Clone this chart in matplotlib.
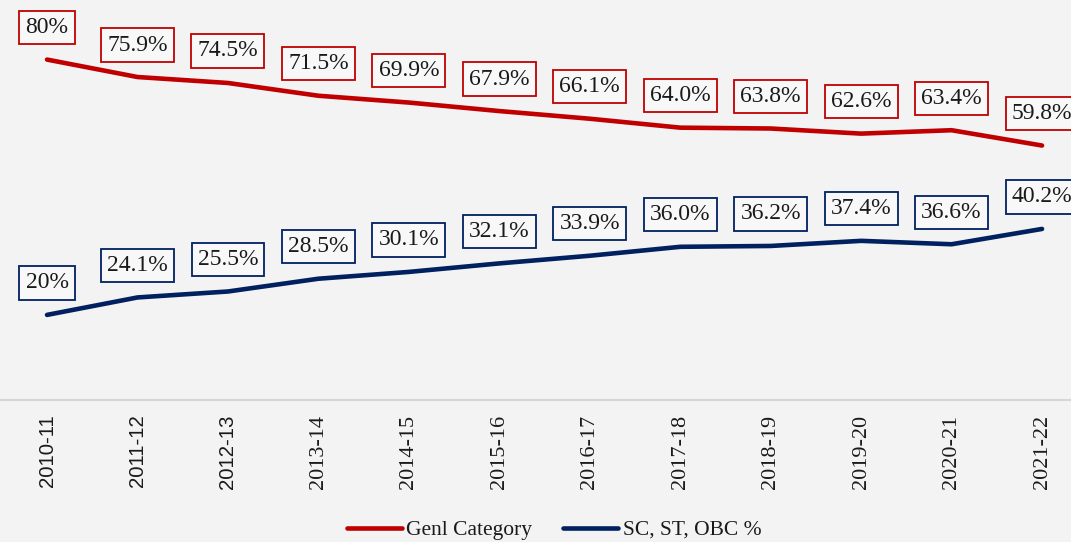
import matplotlib
matplotlib.use("Agg")
import matplotlib.pyplot as plt

years = ["2010-11", "2011-12", "2012-13", "2013-14", "2014-15", "2015-16",
         "2016-17", "2017-18", "2018-19", "2019-20", "2020-21", "2021-22"]
genl = [80, 75.9, 74.5, 71.5, 69.9, 67.9, 66.1, 64.0, 63.8, 62.6, 63.4, 59.8]
reserved = [20, 24.1, 25.5, 28.5, 30.1, 32.1, 33.9, 36.0, 36.2, 37.4, 36.6, 40.2]
genl_labels = ["80%", "75.9%", "74.5%", "71.5%", "69.9%", "67.9%", "66.1%",
               "64.0%", "63.8%", "62.6%", "63.4%", "59.8%"]
reserved_labels = ["20%", "24.1%", "25.5%", "28.5%", "30.1%", "32.1%", "33.9%",
                   "36.0%", "36.2%", "37.4%", "36.6%", "40.2%"]
series_names = ["Genl Category", "SC, ST, OBC %"]

RED = "#C00000"
NAVY = "#002060"
W, H = 1071, 542
fig = plt.figure(figsize=(W / 100, H / 100), dpi=100)
fig.patch.set_facecolor("#f3f3f3")

ax = fig.add_axes([0, 1 - 400 / H, 1, 400 / H])
ax.set_facecolor("none")
x = list(range(len(years)))

l1, = ax.plot(x, genl, color=RED, lw=3.3, solid_capstyle="round", label=series_names[0])
l2, = ax.plot(x, reserved, color=NAVY, lw=3.3, solid_capstyle="round", label=series_names[1])

for vals, labs, c in [(genl, genl_labels, RED), (reserved, reserved_labels, NAVY)]:
    for xi, v, lab in zip(x, vals, labs):
        ax.annotate(lab, (xi, v), xytext=(0, 32), textcoords="offset pixels",
                    ha="center", va="center", fontsize=17, family="Liberation Serif",
                    color="#1a1a1a",
                    bbox=dict(boxstyle="square,pad=0.26", fc="#f8f8f8", ec=c, lw=1.3))

ax.set_xlim(-0.52, 11.32)
ax.set_ylim(0, 94.0)
ax.axhline(0, color="#d6d6d6", lw=1.5, clip_on=False)
for s in ax.spines.values():
    s.set_visible(False)
ax.set_yticks([])
ax.set_xticks(x)
ax.set_xticklabels(years, rotation=90, va="top", ha="center")
ax.tick_params(axis="x", length=0, pad=10.5, colors="#1a1a1a")
for i, t in enumerate(ax.get_xticklabels()):
    if i < 3:
        t.set_family("Liberation Sans")
        t.set_fontsize(14.7)
    else:
        t.set_family("Liberation Serif")
        t.set_fontsize(16)

leg = fig.legend(handles=[l1, l2], loc="center", bbox_to_anchor=(554 / W, 1 - 530 / H),
                 ncol=2, frameon=False, prop={"family": "Liberation Serif", "size": 15.5},
                 handlelength=2.56, handletextpad=0.2, columnspacing=1.44)
for t in leg.get_texts():
    t.set_color("#1a1a1a")

fig.savefig("out.png", dpi=100, facecolor=fig.get_facecolor())
